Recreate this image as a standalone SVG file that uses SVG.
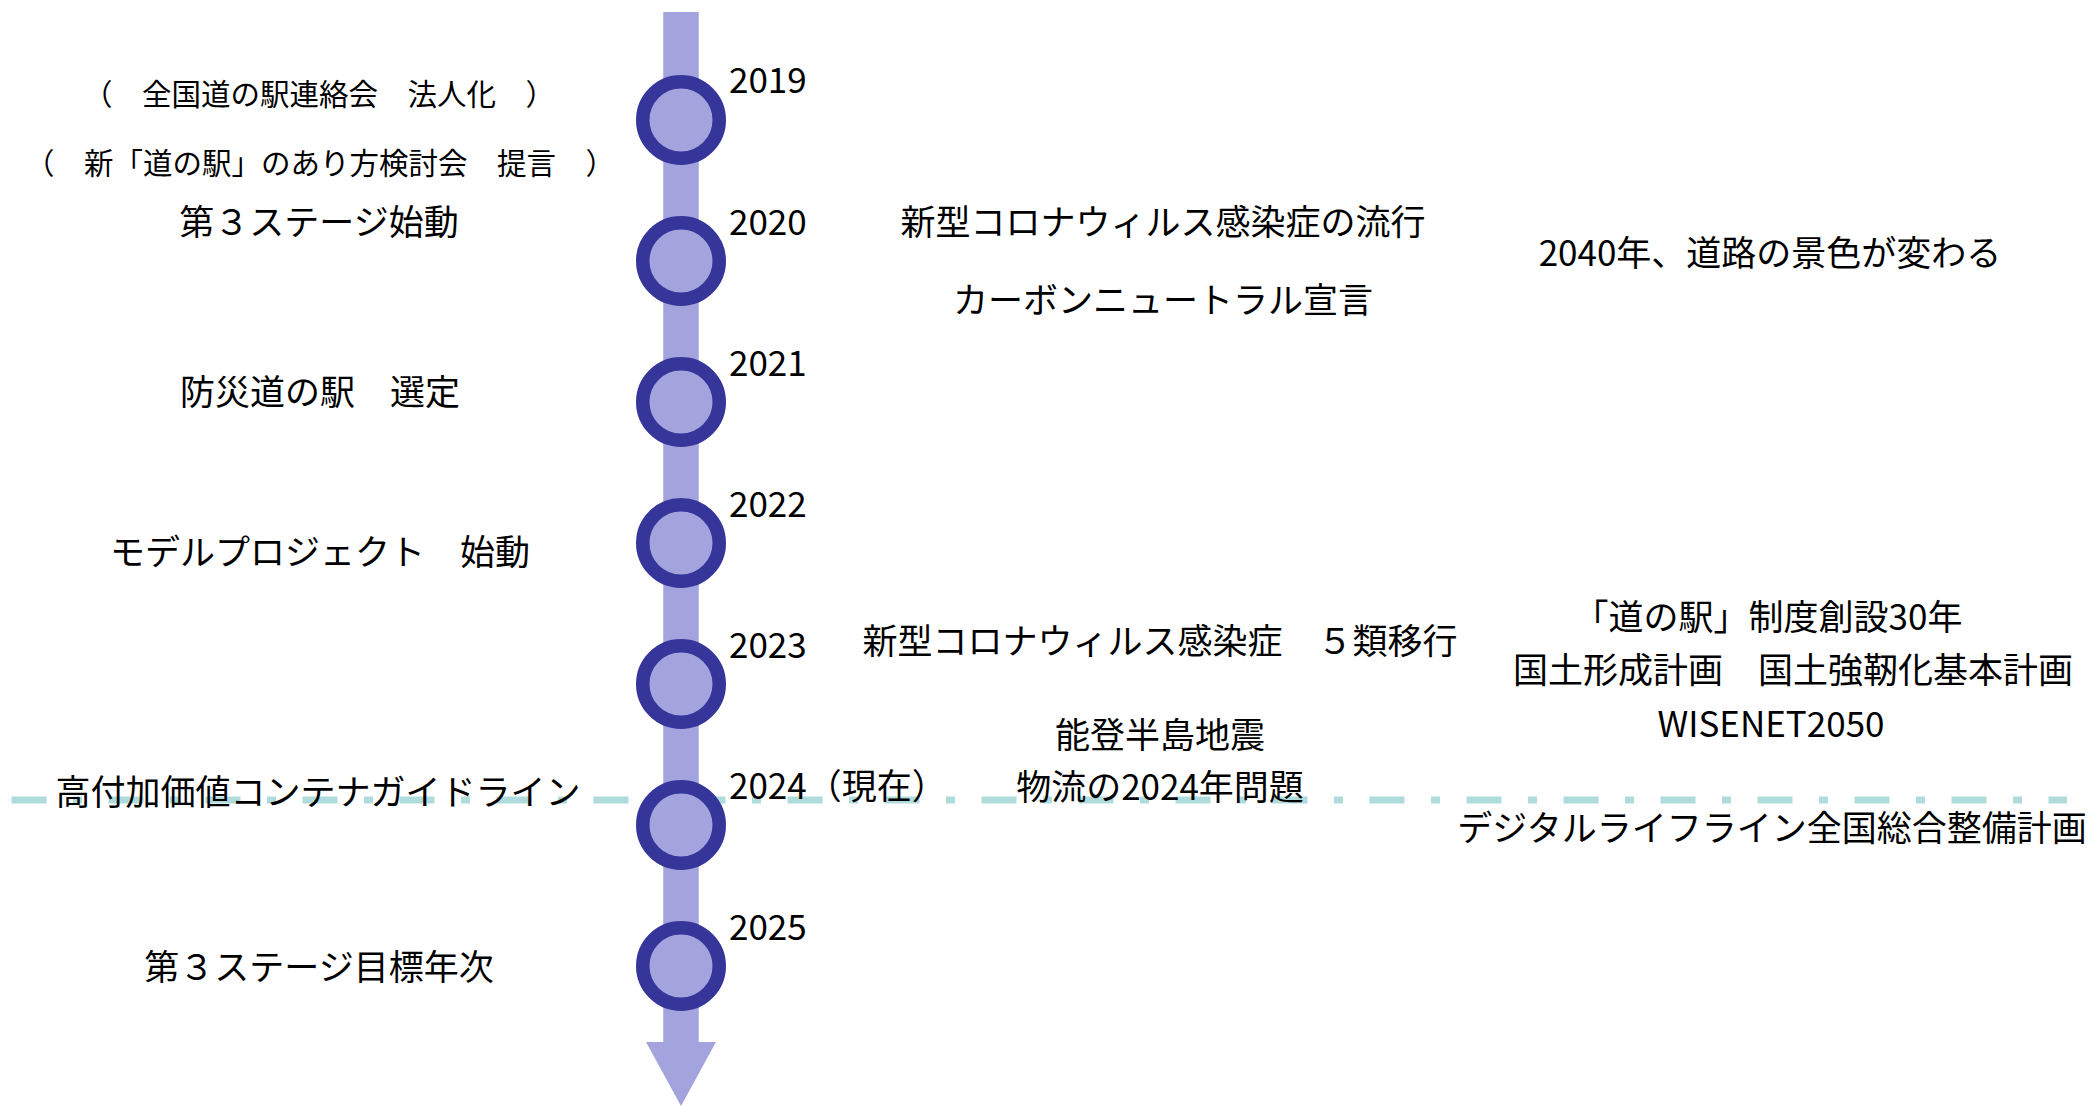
<svg xmlns="http://www.w3.org/2000/svg" width="2094" height="1106" viewBox="0 0 2094 1106">
<style>
  text { font-family: "Noto Sans CJK JP", "Noto Sans", sans-serif; fill: #000; }
  .ev { font-size: 35px; text-anchor: middle; }
  .sm { font-size: 29.5px; text-anchor: middle; }
  .yr { font-size: 35px; text-anchor: start; }
  .node { fill: #A3A3DE; stroke: #35359A; stroke-width: 13.5; }
  .bar { stroke: #A3A3DE; stroke-width: 35.5; fill: none; }
  .now { stroke: #B0DBDD; stroke-width: 7; fill: none; stroke-dasharray: 35 26.5 9 26.5; }
</style>
<defs>
  <marker id="ah" viewBox="0 0 64 70" refX="0" refY="35" markerWidth="64" markerHeight="70" markerUnits="userSpaceOnUse" orient="auto">
    <path d="M0 0 L64 35 L0 70 Z" fill="#A3A3DE"/>
  </marker>
</defs>
<rect width="2094" height="1106" fill="#fff"/>
<g id="connectors">
  <line class="now" x1="11.5" y1="800" x2="2067" y2="800"/>
  <line class="bar" x1="681" y1="12" x2="681" y2="1042" marker-end="url(#ah)"/>
</g>
<g id="node-2019"><circle class="node" cx="681" cy="120" r="38.25"/><text class="yr" x="729" y="93">2019</text></g>
<g id="node-2020"><circle class="node" cx="681" cy="261" r="38.25"/><text class="yr" x="729" y="235">2020</text></g>
<g id="node-2021"><circle class="node" cx="681" cy="402" r="38.25"/><text class="yr" x="729" y="376">2021</text></g>
<g id="node-2022"><circle class="node" cx="681" cy="543" r="38.25"/><text class="yr" x="729" y="517">2022</text></g>
<g id="node-2023"><circle class="node" cx="681" cy="684" r="38.25"/><text class="yr" x="729" y="658">2023</text></g>
<g id="node-2024"><circle class="node" cx="681" cy="825" r="38.25"/><text class="yr" x="729" y="799">2024（現在）</text></g>
<g id="node-2025"><circle class="node" cx="681" cy="966" r="38.25"/><text class="yr" x="729" y="940">2025</text></g>
<g id="left-events">
  <text class="sm" x="319" y="105">（　全国道の駅連絡会　法人化　）</text>
  <text class="sm" x="320" y="174">（　新「道の駅」のあり方検討会　提言　）</text>
  <text class="ev" x="319" y="235">第３ステージ始動</text>
  <text class="ev" x="320" y="405">防災道の駅　選定</text>
  <text class="ev" x="320" y="565">モデルプロジェクト　始動</text>
  <text class="ev" x="318" y="805">高付加価値コンテナガイドライン</text>
  <text class="ev" x="319" y="980">第３ステージ目標年次</text>
</g>
<g id="middle-events">
  <text class="ev" x="1163" y="235">新型コロナウィルス感染症の流行</text>
  <text class="ev" x="1163" y="313">カーボンニュートラル宣言</text>
  <text class="ev" x="1160" y="654">新型コロナウィルス感染症　５類移行</text>
  <text class="ev" x="1160" y="748">能登半島地震</text>
  <text class="ev" x="1160" y="800">物流の2024年問題</text>
</g>
<g id="right-events">
  <text class="ev" x="1770" y="266">2040年、道路の景色が変わる</text>
  <text class="ev" x="1768" y="630">「道の駅」制度創設30年</text>
  <text class="ev" x="1793" y="683">国土形成計画　国土強靭化基本計画</text>
  <text class="ev" x="1771" y="737">WISENET2050</text>
  <text class="ev" x="1772" y="841">デジタルライフライン全国総合整備計画</text>
</g>
</svg>
